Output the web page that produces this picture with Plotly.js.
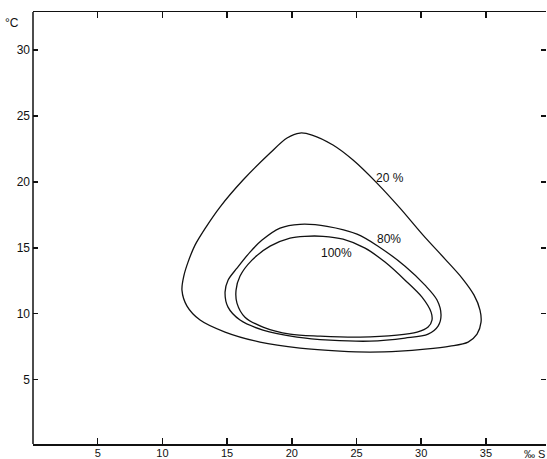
<!DOCTYPE html>
<html>
<head>
<meta charset="utf-8">
<script src="https://cdn.plot.ly/plotly-3.0.1.min.js"></script>
<style>html,body{margin:0;padding:0;background:#fff;}#chart{width:547px;height:459px;}</style>
</head>
<body>
<div id="chart"></div>
<script>
// Salinity (‰ S) and temperature (°C) outlines of the three contours
const contourLabels = ["20 %", "80%", "100%"];

const sal20  = [20.63, 21.56, 23.18, 24.73, 26.58, 28.36, 30.14, 31.84, 33.15, 34.08, 34.54, 34.62, 34.31, 33.62, 32.23, 30.29, 28.36, 26.04, 23.72, 20.63, 17.54, 14.84, 12.91, 11.90, 11.51, 11.67, 11.98, 12.52, 13.37, 14.45, 16.23, 18.32, 19.63, 20.63];
const temp20 = [23.71, 23.56, 22.80, 21.66, 19.91, 18.01, 15.96, 14.14, 12.70, 11.40, 10.27, 9.35, 8.44, 7.84, 7.53, 7.30, 7.15, 7.08, 7.15, 7.38, 7.84, 8.60, 9.51, 10.57, 11.78, 12.92, 13.91, 15.20, 16.57, 18.09, 20.14, 22.19, 23.33, 23.71];

const sal80  = [20.63, 22.72, 25.04, 26.66, 28.75, 30.29, 31.22, 31.53, 31.30, 30.53, 28.75, 26.04, 22.95, 20.40, 17.77, 16.00, 15.07, 14.84, 15.07, 15.76, 16.77, 17.70, 19.09, 20.63];
const temp80 = [16.78, 16.63, 16.03, 15.12, 13.60, 12.16, 11.03, 9.89, 9.05, 8.44, 8.14, 7.91, 7.99, 8.22, 8.75, 9.51, 10.49, 11.63, 12.54, 13.45, 14.67, 15.58, 16.49, 16.78];

const sal100  = [21.02, 22.41, 23.96, 25.66, 27.20, 28.75, 30.06, 30.76, 30.83, 30.53, 29.68, 28.13, 25.27, 22.18, 19.86, 17.77, 16.38, 15.76, 15.69, 16.00, 16.92, 18.32, 19.86, 21.02];
const temp100 = [15.87, 15.87, 15.65, 14.97, 13.91, 12.54, 11.25, 10.11, 9.51, 8.98, 8.60, 8.37, 8.22, 8.29, 8.44, 8.98, 9.73, 10.80, 11.78, 12.85, 14.06, 15.12, 15.73, 15.87];

const xTicks = [5, 10, 15, 20, 25, 30, 35];
const yTicks = [5, 10, 15, 20, 25, 30];

const ink = "#111";
const lineStyle = {color: ink, width: 1.3, shape: "spline", smoothing: 0.9};

const traces = [
  {x: sal20, y: temp20, mode: "lines", line: lineStyle, hoverinfo: "skip"},
  {x: sal80, y: temp80, mode: "lines", line: lineStyle, hoverinfo: "skip"},
  {x: sal100, y: temp100, mode: "lines", line: lineStyle, hoverinfo: "skip"}
];

const font = {family: "Liberation Sans, Arial, sans-serif", size: 12, color: ink};
const tickFont = {family: "Liberation Sans, Arial, sans-serif", size: 11, color: ink};

const layout = {
  width: 547, height: 459,
  margin: {l: 33, r: 1, t: 12, b: 15, pad: 0},
  paper_bgcolor: "#fff", plot_bgcolor: "#fff",
  showlegend: false,
  font: font,
  xaxis: {
    range: [0, 39.64], tickvals: xTicks, ticktext: xTicks.map(String),
    ticks: "inside", ticklen: 6, tickwidth: 1.5, tickcolor: ink,
    showline: true, linecolor: ink, linewidth: 1.5, mirror: "ticks",
    showgrid: false, zeroline: false, tickfont: tickFont, fixedrange: true,
    ticklabelstandoff: -2
  },
  yaxis: {
    range: [0.1, 32.9], tickvals: yTicks, ticktext: yTicks.map(String),
    ticks: "inside", ticklen: 5, tickwidth: 1.5, tickcolor: ink,
    showline: false, mirror: "ticks",
    showgrid: false, zeroline: false, tickfont: font, fixedrange: true,
    ticklabelstandoff: 2
  },
  shapes: [
    {type: "line", xref: "paper", yref: "paper", x0: 0, x1: 0, y0: 0, y1: 1,
     line: {color: ink, width: 1.5}}
  ],
  annotations: [
    {text: "°C", xref: "paper", yref: "paper", x: -0.04, y: 0.975, showarrow: false,
     xanchor: "center", yanchor: "middle", font: font},
    {text: "‰ S", xref: "paper", yref: "paper", x: 1.0, y: -0.022, showarrow: false,
     xanchor: "right", yanchor: "middle", font: tickFont, borderpad: 0},
    {text: contourLabels[0], x: 27.55, y: 20.3, showarrow: false, xanchor: "center", yanchor: "middle", font: font},
    {text: contourLabels[1], x: 27.5, y: 15.65, showarrow: false, xanchor: "center", yanchor: "middle", font: font},
    {text: contourLabels[2], x: 23.45, y: 14.6, showarrow: false, xanchor: "center", yanchor: "middle", font: font}
  ]
};

Plotly.newPlot("chart", traces, layout, {staticPlot: true, displayModeBar: false});
</script>
</body>
</html>
